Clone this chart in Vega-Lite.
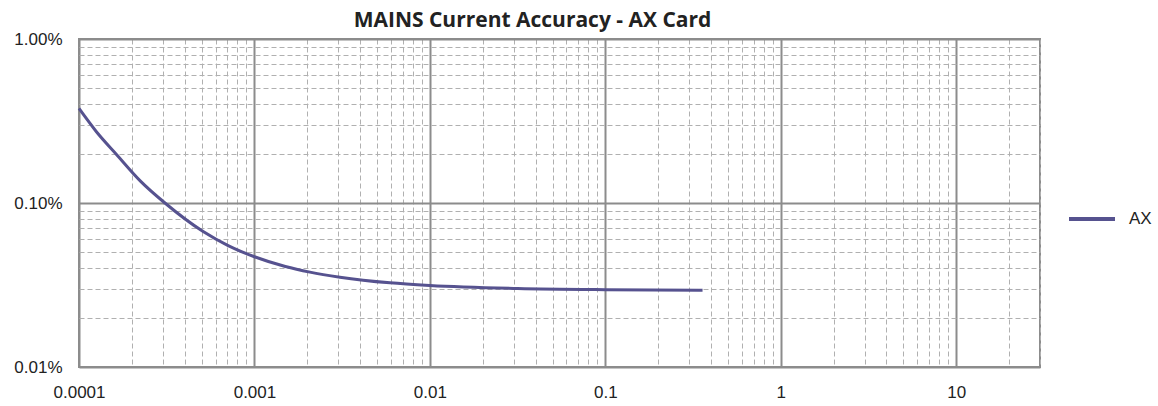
{
  "$schema": "https://vega.github.io/schema/vega-lite/v6.json",
  "width": 961,
  "height": 328,
  "autosize": {"type": "none"},
  "padding": {"left": 79, "top": 39, "right": 118, "bottom": 39},
  "background": "white",
  "title": {
    "text": "MAINS Current Accuracy - AX Card",
    "font": "Open Sans",
    "fontSize": 21,
    "fontWeight": "bold",
    "color": "#222222",
    "anchor": "middle",
    "dx": -27,
    "offset": -1
  },
  "config": {
    "view": {"stroke": "#8c8c8c", "strokeWidth": 2},
    "axis": {
      "labelFont": "Liberation Sans",
      "labelFontSize": 17,
      "labelColor": "#222222",
      "ticks": false,
      "domain": false,
      "grid": true,
      "labelPadding": 17,
      "labelOverlap": false,
      "labelBound": false,
      "labelFlush": false
    }
  },
  "data": {
    "values": [
      {"current": 0.0001, "accuracy": 0.00377, "series": "AX"},
      {"current": 0.000126, "accuracy": 0.00271, "series": "AX"},
      {"current": 0.000164, "accuracy": 0.00197, "series": "AX"},
      {"current": 0.000224, "accuracy": 0.00136, "series": "AX"},
      {"current": 0.000309, "accuracy": 0.001, "series": "AX"},
      {"current": 0.00051, "accuracy": 0.00067, "series": "AX"},
      {"current": 0.000708, "accuracy": 0.00055, "series": "AX"},
      {"current": 0.001, "accuracy": 0.00047, "series": "AX"},
      {"current": 0.0015, "accuracy": 0.00041, "series": "AX"},
      {"current": 0.00207, "accuracy": 0.000379, "series": "AX"},
      {"current": 0.00307, "accuracy": 0.000353, "series": "AX"},
      {"current": 0.00592, "accuracy": 0.000326, "series": "AX"},
      {"current": 0.01, "accuracy": 0.000314, "series": "AX"},
      {"current": 0.0316, "accuracy": 0.000301, "series": "AX"},
      {"current": 0.1, "accuracy": 0.000296, "series": "AX"},
      {"current": 0.358, "accuracy": 0.000294, "series": "AX"}
    ]
  },
  "mark": {"type": "line", "strokeWidth": 3, "interpolate": "monotone"},
  "encoding": {
    "x": {
      "field": "current",
      "type": "quantitative",
      "title": null,
      "scale": {"type": "log", "domain": [0.0001, 30], "nice": false},
      "axis": {
        "values": [0.0001, 0.0002, 0.0003, 0.0004, 0.0005, 0.0006, 0.0007, 0.0008, 0.0009,
                   0.001, 0.002, 0.003, 0.004, 0.005, 0.006, 0.007, 0.008, 0.009,
                   0.01, 0.02, 0.03, 0.04, 0.05, 0.06, 0.07, 0.08, 0.09,
                   0.1, 0.2, 0.3, 0.4, 0.5, 0.6, 0.7, 0.8, 0.9,
                   1, 2, 3, 4, 5, 6, 7, 8, 9, 10, 20, 30],
        "labelExpr": "abs(log(datum.value)/LN10 - round(log(datum.value)/LN10)) < 0.001 ? format(datum.value, '~g') : ''",
        "gridColor": {"condition": {"test": "abs(log(datum.value)/LN10 - round(log(datum.value)/LN10)) < 0.001", "value": "#8c8c8c"}, "value": "#b0b0b0"},
        "gridWidth": {"condition": {"test": "abs(log(datum.value)/LN10 - round(log(datum.value)/LN10)) < 0.001", "value": 2}, "value": 1},
        "gridDash": {"condition": {"test": "abs(log(datum.value)/LN10 - round(log(datum.value)/LN10)) < 0.001", "value": []}, "value": [5, 3]}
      }
    },
    "y": {
      "field": "accuracy",
      "type": "quantitative",
      "title": null,
      "scale": {"type": "log", "domain": [0.0001, 0.01], "nice": false},
      "axis": {
        "values": [0.0001, 0.0002, 0.0003, 0.0004, 0.0005, 0.0006, 0.0007, 0.0008, 0.0009,
                   0.001, 0.002, 0.003, 0.004, 0.005, 0.006, 0.007, 0.008, 0.009, 0.01],
        "labelExpr": "abs(log(datum.value)/LN10 - round(log(datum.value)/LN10)) < 0.001 ? format(datum.value, '.2%') : ''",
        "gridColor": {"condition": {"test": "abs(log(datum.value)/LN10 - round(log(datum.value)/LN10)) < 0.001", "value": "#8c8c8c"}, "value": "#b0b0b0"},
        "gridWidth": {"condition": {"test": "abs(log(datum.value)/LN10 - round(log(datum.value)/LN10)) < 0.001", "value": 2}, "value": 1},
        "gridDash": {"condition": {"test": "abs(log(datum.value)/LN10 - round(log(datum.value)/LN10)) < 0.001", "value": []}, "value": [5, 3]}
      }
    },
    "color": {
      "field": "series",
      "type": "nominal",
      "scale": {"domain": ["AX"], "range": ["#56528f"]},
      "legend": {
        "title": null,
        "orient": "none",
        "legendX": 988,
        "legendY": 155,
        "symbolType": "stroke",
        "symbolSize": 2116,
        "symbolStrokeWidth": 4,
        "labelFont": "Liberation Sans",
        "labelFontSize": 17,
        "labelColor": "#222222",
        "labelOffset": 12
      }
    }
  }
}
